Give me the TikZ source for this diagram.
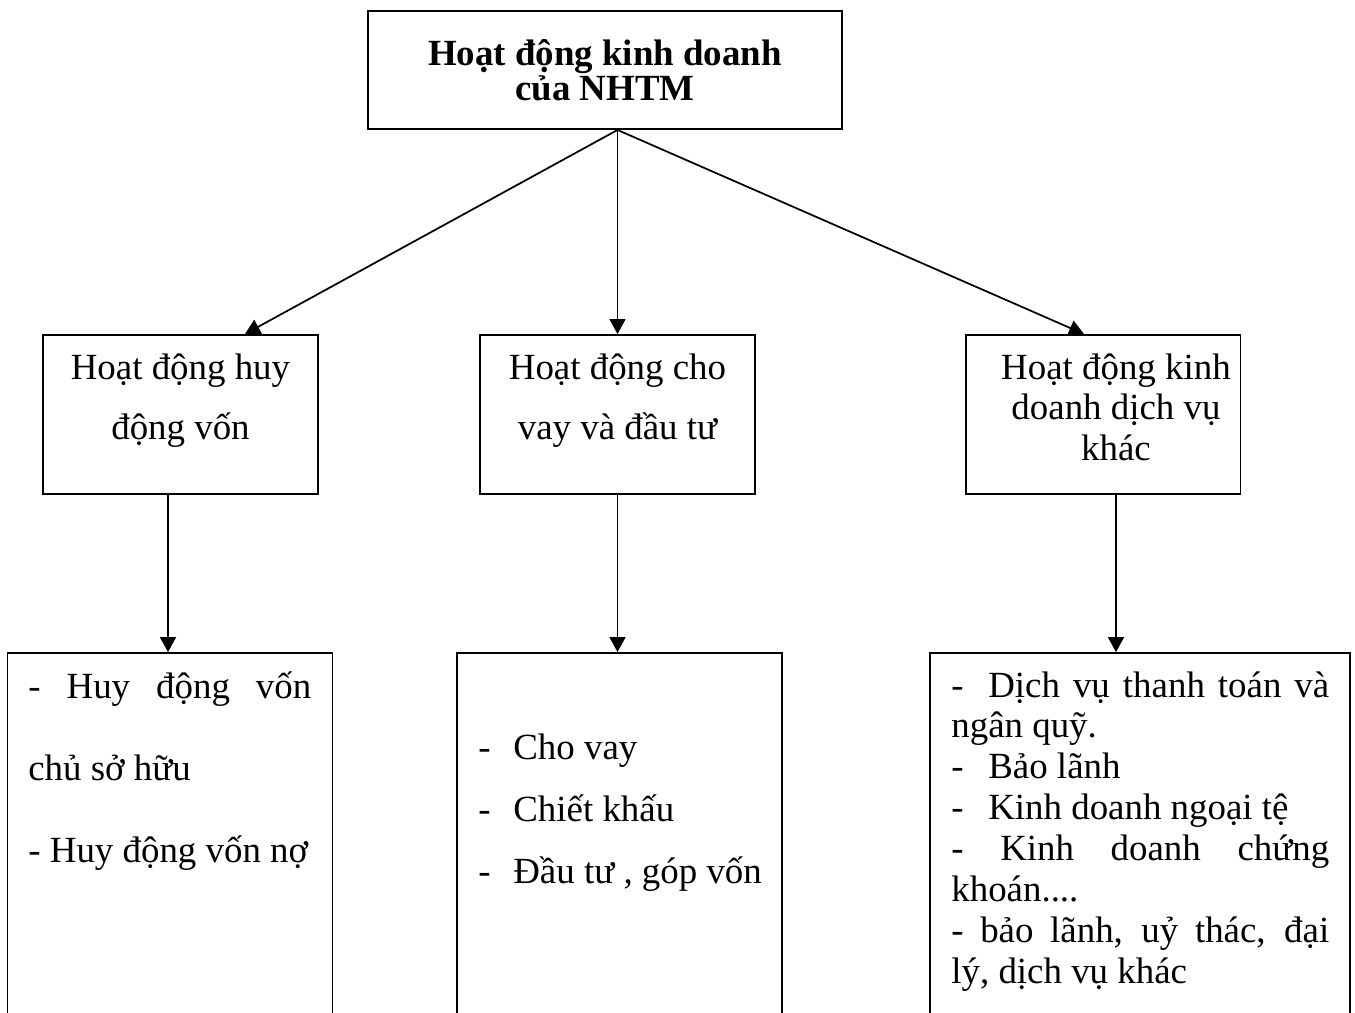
\documentclass[tikz,border=0pt]{standalone}
\usepackage{fontspec}
\setmainfont{Liberation Serif}
\usetikzlibrary{arrows.meta}
\setlength{\lineskiplimit}{-30pt}

\begin{document}
\begin{tikzpicture}[x=0.02cm, y=-0.02cm, font=\fontsize{21}{23.3}\selectfont]
    % Define the styles for the boxes, their texts and the arrows
    \tikzstyle{box} = [draw, line width=1.1pt, inner sep=0pt]
    \tikzstyle{boxtext} = [inner sep=0pt, anchor=base]
    \tikzstyle{arrow} = [-{Triangle[length=0.3cm, width=0.32cm]}, line width=1pt]

    \useasboundingbox (0,0) rectangle (1355,1012);

    % Top box
    \node[box, minimum width=9.48cm, minimum height=2.36cm, text width=9cm, align=flush center, font=\fontsize{21}{20}\selectfont\bfseries] (hdkd) at (605,70) {Hoạt động kinh doanh\\của NHTM};

    % Middle row of boxes
    \node[box, minimum width=5.5cm, minimum height=3.18cm] (huydong) at (180.5,414.5) {};
    \node[box, minimum width=5.5cm, minimum height=3.18cm] (chovay) at (617.5,414.5) {};
    \node[box, minimum width=5.5cm, minimum height=3.18cm] (dichvu) at (1103,414.5) {};

    \node[boxtext, text width=5cm, align=flush center, font=\fontsize{21}{34.7}\selectfont] (huydongtxt) at (180.5,379) {Hoạt động huy\\động vốn};
    \node[boxtext, text width=5cm, align=flush center, font=\fontsize{21}{34.7}\selectfont] (chovaytxt) at (617.5,379) {Hoạt động cho\\vay và đầu tư};
    \node[boxtext, text width=5cm, align=flush center] (dichvutxt) at (1116,379) {Hoạt động kinh\\doanh dịch vụ\\khác};

    % Bottom row of boxes (cut by the lower edge)
    \node[box, minimum width=6.5cm, minimum height=7.6cm] (huydongct) at (170,843) {};
    \node[box, minimum width=6.5cm, minimum height=7.6cm] (chovayct) at (619.5,843) {};
    \node[box, minimum width=8.4cm, minimum height=7.6cm] (dichvuct) at (1140,843) {};

    \node[boxtext, anchor=base west, text width=6.2cm, align=flush left, font=\fontsize{21}{46.7}\selectfont] (huydongcttxt) at (28,698)
        {\makebox[5.66cm][s]{- Huy động vốn}\\chủ sở hữu\\- Huy động vốn nợ};
    \node[boxtext, anchor=base west, text width=6cm, align=flush left, font=\fontsize{21}{35.3}\selectfont] (chovaycttxt) at (478,759)
        {\makebox[0.7cm][l]{-}Cho vay\\\makebox[0.7cm][l]{-}Chiết khấu\\\makebox[0.7cm][l]{-}Đầu tư , góp vốn};
    \node[boxtext, anchor=base west, text width=7.9cm, align=flush left] (dichvucttxt) at (951,697)
        {\makebox[7.56cm][s]{\makebox[0.74cm][l]{-}Dịch vụ thanh toán và}\\ngân quỹ.\\\makebox[0.74cm][l]{-}Bảo lãnh\\\makebox[0.74cm][l]{-}Kinh doanh ngoại tệ\\\makebox[7.56cm][s]{- Kinh doanh chứng}\\khoán....\\\makebox[7.56cm][s]{- bảo lãnh, uỷ thác, đại}\\lý, dịch vụ khác};

    % Arrows from the top box down to the middle row
    \coordinate (goc) at (hdkd.south -| chovay.north);
    \draw[arrow] (goc) -- ([xshift=1.29cm]huydong.north);
    \draw[arrow] (goc) -- (chovay.north);
    \draw[arrow] (goc) -- ([xshift=-0.38cm]dichvu.north);

    % Arrows from the middle row down to the bottom row
    \draw[arrow] ([xshift=-0.25cm]huydong.south) -- ([xshift=-0.25cm]huydong.south |- huydongct.north);
    \draw[arrow] (chovay.south) -- (chovay.south |- chovayct.north);
    \draw[arrow] ([xshift=0.26cm]dichvu.south) -- ([xshift=0.26cm]dichvu.south |- dichvuct.north);
\end{tikzpicture}
\end{document}
